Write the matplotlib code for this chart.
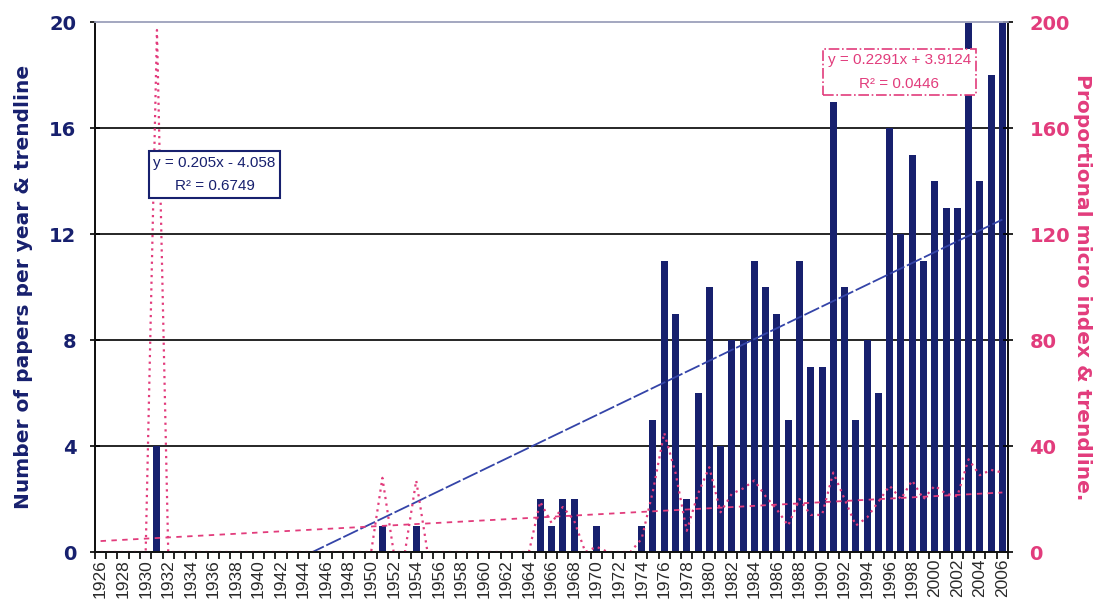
import numpy as np
from matplotlib import pyplot as plt

plt.rcParams['font.family'] = ['Liberation Sans', 'DejaVu Sans']

years = list(range(1926, 2007))

# number of papers published each year
papers = [0, 0, 0, 0, 0, 4, 0, 0, 0, 0,
          0, 0, 0, 0, 0, 0, 0, 0, 0, 0,
          0, 0, 0, 0, 0, 1, 0, 0, 1, 0,
          0, 0, 0, 0, 0, 0, 0, 0, 0, 2,
          1, 2, 2, 0, 1, 0, 0, 0, 1, 5,
          11, 9, 2, 6, 10, 4, 8, 8, 11, 10,
          9, 5, 11, 7, 7, 17, 10, 5, 8, 6,
          16, 12, 15, 11, 14, 13, 13, 22, 14, 18,
          20]

# proportional micro index per year (right axis)
micro = [0, 0, 0, 0, 0, 197, 0, 0, 0, 0,
         0, 0, 0, 0, 0, 0, 0, 0, 0, 0,
         0, 0, 0, 0, 0, 28, 0, 0, 27, 0,
         0, 0, 0, 0, 0, 0, 0, 0, 0, 19,
         11, 17, 12, 0, 2, 0, 0, 0, 5, 23,
         45, 30, 8, 22, 32, 15, 22, 24, 27, 21,
         16, 10, 20, 14, 14, 30, 20, 10, 13, 19,
         25, 20, 27, 20, 25, 22, 21, 35, 29, 31,
         30]

# linear trendlines (x = 1 .. n)
papers_fit = (0.205, -4.058)
papers_r2 = 0.6749
micro_fit = (0.2291, 3.9124)
micro_r2 = 0.0446

navy = '#17206e'
trend_blue = '#3444a8'
pink = '#e23c7c'

fig = plt.figure(figsize=(10.99, 6.02), dpi=100)
ax = fig.add_axes([0.0864, 0.083, 0.8308, 0.8804])

x = np.arange(len(years))
xi = x + 1

for v in [4, 8, 12, 16]:
    ax.axhline(v, color='#151515', lw=1.3, zorder=1)

ax.bar(x, papers, width=0.62, color=navy, zorder=2)
ax.plot(x, papers_fit[0] * xi + papers_fit[1], color=trend_blue, lw=1.3,
        ls=(0, (9, 1.5)), zorder=3)

ax.set_xlim(-0.5, len(years) - 0.5)
ax.set_ylim(0, 20)
ax.set_yticks([0, 4, 8, 12, 16, 20], labels=['0', '4', '8', '12', '16', '20'],
              fontsize=14, fontweight='bold', color=navy, family='DejaVu Sans')
ax.tick_params(axis='y', direction='inout', length=7, width=1.2, pad=10)

ax.set_xticks(x[::2], labels=[str(y) for y in years[::2]], rotation=90,
              fontsize=12.5, color='#2a2a2a')
ax.set_xticks(np.arange(len(years) + 1) - 0.5, minor=True)
ax.tick_params(axis='x', which='major', length=0, pad=5)
ax.tick_params(axis='x', which='minor', direction='out', length=5, width=1.2)

ax.set_ylabel('Number of papers per year & trendline', fontsize=14.5,
              fontweight='bold', color=navy, family='DejaVu Sans')
ax.yaxis.set_label_coords(-0.068, 0.5)

ax2 = ax.twinx()
ax2.plot(x, micro, color=pink, lw=1.6, ls=(0, (1, 2)))
ax2.plot(x, micro_fit[0] * xi + micro_fit[1], color=pink, lw=1.3,
         ls=(0, (3, 3)))
ax2.set_ylim(0, 200)
ax2.set_yticks([0, 40, 80, 120, 160, 200],
               labels=['0', '40', '80', '120', '160', '200'],
               fontsize=14, fontweight='bold', color=pink, family='DejaVu Sans')
ax2.tick_params(axis='y', direction='inout', length=7, width=1.2, pad=12)
ax2.set_ylabel('Proportional micro index & trendline.', fontsize=14.5,
               fontweight='bold', color=pink, family='DejaVu Sans',
               rotation=270, va='center')
ax2.yaxis.set_label_coords(1.082, 0.5)

for a in (ax, ax2):
    for side in ['left', 'right', 'bottom']:
        a.spines[side].set_color('#111111')
        a.spines[side].set_linewidth(1.3)
    a.spines['top'].set_color('#a3a7c0')
    a.spines['top'].set_linewidth(1.2)

ax2.text(0.131, 0.712,
         'y = %.3fx - %.3f\nR² = %.4f' % (papers_fit[0], -papers_fit[1], papers_r2),
         transform=ax2.transAxes, ha='center', va='center', ma='center',
         fontsize=11, color=navy, linespacing=1.85, zorder=10,
         bbox=dict(boxstyle='square,pad=0.3', fc='white', ec=navy, lw=1.5))
ax2.text(0.881, 0.906,
         'y = %.4fx + %.4f\nR² = %.4f' % (micro_fit[0], micro_fit[1], micro_r2),
         transform=ax2.transAxes, ha='center', va='center', ma='center',
         fontsize=11, color=pink, linespacing=1.85, zorder=10,
         bbox=dict(boxstyle='square,pad=0.3', fc='white', ec=pink, lw=1.2,
                   ls='-.'))

fig.savefig('out.png', dpi=100)
